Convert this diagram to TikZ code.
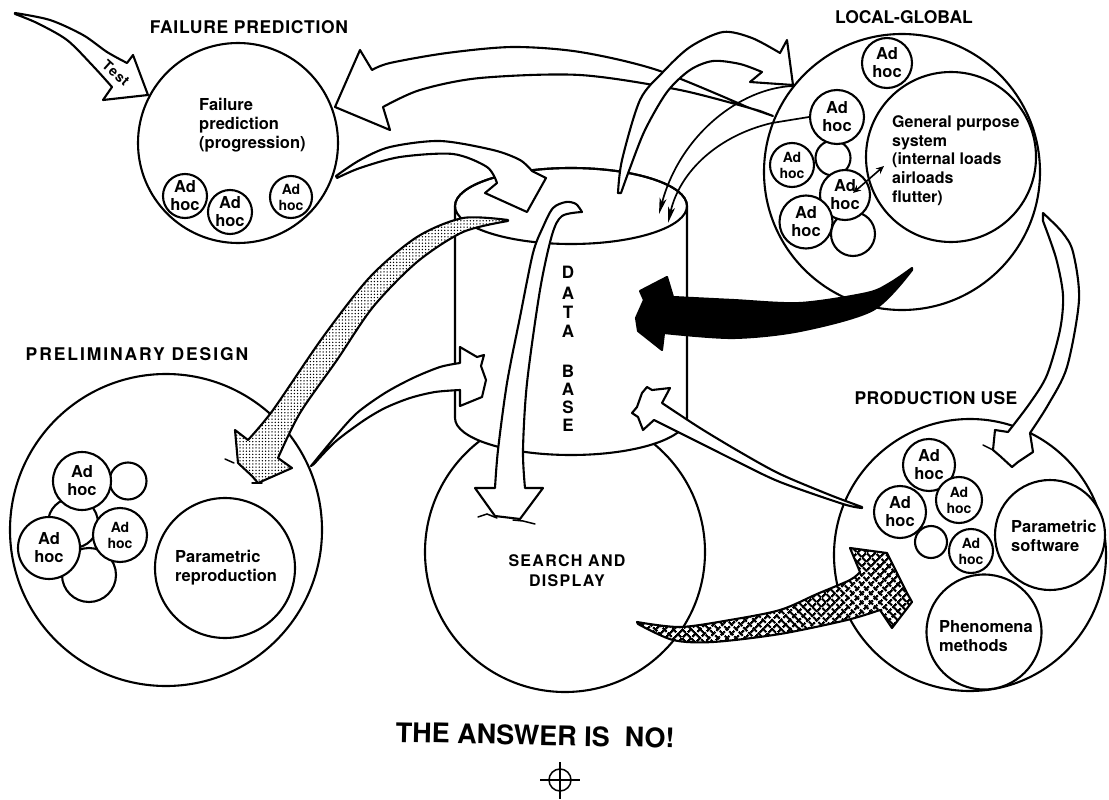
\documentclass[tikz,border=0pt]{standalone}
\usepackage{fontspec}
\setmainfont{TeX Gyre Heros}
\usetikzlibrary{arrows.meta,patterns.meta}
\begin{document}
\begin{tikzpicture}[x=1pt,y=-1pt,
  ln/.style={line width=2.1pt, line join=round},
  ring/.style={circle, draw, ln, fill=white, inner sep=0pt},
  adhoc/.style={ring, align=center, font=\fontsize{16.5}{18}\selectfont\bfseries},
  adhocs/.style={ring, align=center, font=\fontsize{14}{16}\selectfont\bfseries},
  heading/.style={inner sep=0pt, font=\fontsize{17.5}{20}\selectfont\bfseries},
  body/.style={inner sep=0pt, align=left, font=\fontsize{16.5}{19}\selectfont\bfseries},
  dbl/.style={inner sep=0pt, font=\fontsize{17}{19}\selectfont\bfseries},
  fat/.style={ln, fill=white},
  stipple/.style={ln, preaction={fill=white}, pattern={Dots[distance=3.2pt, radius=0.75pt]}},
  hatch/.style={ln, preaction={fill=white}, preaction={pattern={Lines[angle=45, distance=6.5pt, line width=2.6pt]}}, pattern={Lines[angle=-45, distance=6.5pt, line width=2.6pt]}},
  solidarrow/.style={ln, fill=black},
  thinarr/.style={line width=1.7pt, -{Stealth[length=16pt, width=7pt, inset=4pt]}},
  squig/.style={line width=1.5pt, line cap=round}
]
\useasboundingbox (0,0) rectangle (1109,800);

% ---------- headings ----------
\node[heading] (hfp) at (249,27) {\addfontfeatures{LetterSpace=4}FAILURE PREDICTION};
\node[heading] (hlg) at (904,17) {LOCAL-GLOBAL};
\node[heading] (hpd) at (137,354) {\addfontfeatures{LetterSpace=11}PRELIMINARY DESIGN};
\node[heading] (hpu) at (936,398) {\addfontfeatures{LetterSpace=2}PRODUCTION USE};

% ---------- failure prediction ----------
\node[ring, minimum size=200pt] (fp) at (238,143) {};
\node[body, anchor=north west] (fpt) at (199,98.5) {Failure\\prediction\\(progression)};
\node[adhoc, minimum size=44pt] (fpa1) at (185,196) {Ad\\hoc};
\node[adhoc, minimum size=44pt] (fpa2) at (230,212) {Ad\\hoc};
\node[adhocs, minimum size=42pt] (fpa3) at (291,197) {Ad\\hoc};

% ---------- local-global ----------
\node[ring, minimum size=276pt] (lg) at (902,172) {};
\node[adhoc, minimum size=50pt] (lga0) at (887,63) {Ad\\hoc};
\node[ring, minimum size=170pt] (gp) at (951,157) {};
\node[body, anchor=north west, font=\fontsize{16}{18.7}\selectfont\bfseries] (gpt) at (892,115.5) {General purpose\\system\\(internal loads\\airloads\\flutter)};
\node[ring, minimum size=35pt] (lgb1) at (833,158) {};
\node[ring, minimum size=44pt] (lgb2) at (853,234) {};
\node[adhoc, minimum size=54pt] (lga1) at (837,117) {Ad\\hoc};
\node[adhocs, minimum size=44pt] (lga2) at (792,165) {Ad\\hoc};
\node[adhoc, minimum size=50pt] (lga3) at (845,195) {Ad\\hoc};
\node[adhoc, minimum size=53pt] (lga4) at (806,222) {Ad\\hoc};
\draw[line width=1.6pt, {Stealth[length=8pt,width=7pt]}-{Stealth[length=8pt,width=7pt]}] (lga3.center) ++(8,-2) coordinate (dba) -- (884,166) coordinate (dbb);

% ---------- preliminary design ----------
\node[ring, minimum size=312pt] (pd) at (166,530) {};
\node[ring, minimum size=140pt] (pr) at (225,568) {};
\node[body, anchor=north west] (prt) at (175,550.5) {Parametric\\reproduction};
\node[ring, minimum size=37pt] (pdb1) at (128,481) {};
\node[ring, minimum size=50pt] (pdb2) at (73,523) {};
\node[ring, minimum size=54pt] (pdb3) at (89,575) {};
\node[adhoc, minimum size=58pt] (pda1) at (82,481) {Ad\\hoc};
\node[adhoc, minimum size=62pt] (pda2) at (49,548) {Ad\\hoc};
\node[adhocs, minimum size=54pt] (pda3) at (120,535) {Ad\\hoc};

% ---------- production use ----------
\node[ring, minimum size=272pt] (pu) at (970,555) {};
\node[adhoc, minimum size=52pt] (pua1) at (929,465) {Ad\\hoc};
\node[adhocs, minimum size=46pt] (pua2) at (959,500) {Ad\\hoc};
\node[adhoc, minimum size=52pt] (pua3) at (900,512) {Ad\\hoc};
\node[ring, minimum size=32pt] (pub1) at (931,542) {};
\node[adhocs, minimum size=44pt] (pua4) at (971,551) {Ad\\hoc};
\node[ring, minimum size=110pt] (ps) at (1050,535) {};
\node[body, anchor=north west] (pst) at (1011,520) {Parametric\\software};
\node[ring, minimum size=115pt] (pm) at (984,632) {};
\node[body, anchor=north west] (pmt) at (939,620) {Phenomena\\methods};

% ---------- search and display ----------
\node[ring, minimum size=280pt] (sd) at (565,552) {};
\node[inner sep=0pt, align=center, font=\fontsize{16}{20}\selectfont\bfseries\addfontfeatures{LetterSpace=8}] (sdt) at (567,571) {SEARCH AND\\DISPLAY};

% ---------- data base cylinder ----------
\draw[ln, fill=white] (455,206) -- (455,418) arc[start angle=180, end angle=0, x radius=116, y radius=37] -- (687,206) arc[start angle=0, end angle=-180, x radius=116, y radius=38] -- cycle;
\draw[ln] (571,206) ellipse[x radius=116, y radius=38];
\coordinate (dbtop) at (571,206);
\foreach \l/\yy [count=\i] in {D/278,A/299,T/318,A/337,B/377,A/395,S/413,E/431}
  \node[dbl, anchor=base] (db\i) at (568,\yy) {\l};

% ---------- arrow A : local-global -> failure prediction ----------
\draw[fat] (335,107) -- (360,50) -- (372,70)
  -- plot[smooth] coordinates {(372,70) (390,63) (447,53) (513,47) (580,52) (657,70) (747,107)}
  -- (773,116) -- (760,111)
  -- plot[smooth] coordinates {(760,111) (680,90) (580,75) (480,78) (420,90) (383,107)}
  -- (390,130) -- cycle;

% ---------- arrow B : data base -> local-global ----------
\draw[fat] plot[smooth] coordinates {(618,193) (622,160) (640,100) (663,72) (690,47) (723,32) (752,38) (780,53)}
  -- (787,40) -- (793,85) -- (750,82) -- (762,72)
  -- plot[smooth] coordinates {(762,72) (740,64) (713,61) (690,70) (667,92) (645,130) (630,168) (621,193)}
  -- cycle;

% ---------- thin arrows C : local-global -> data base ----------
\coordinate (ca) at (668,223);
\coordinate (cb) at (659,214);
\coordinate (c2s) at (793,86);
\draw[thinarr] (lga1.180) -- (772,123) .. controls (720,135) and (680,170) .. (ca);
\draw[thinarr] (c2s) .. controls (740,88) and (680,135) .. (cb);

% ---------- arrow D : failure prediction -> data base ----------
\draw[fat] plot[smooth] coordinates {(336,176) (360,160) (390,147) (440,141) (493,150) (520,160) (532,171)}
  -- (546,178) -- (527,212) -- (485,193) -- (497,183)
  -- plot[smooth] coordinates {(497,183) (487,167) (453,154) (400,157) (360,168) (337,178)}
  -- cycle;

% ---------- arrow E : data base -> search and display ----------
\draw[fat] plot[smooth] coordinates {(582,212) (576,204) (566,202) (553,208) (543,227) (533,253) (520,317) (507,383) (498,450) (495,488)}
  -- (475,488) -- (495,516) -- (520,519) -- (543,488) -- (525,488)
  -- plot[smooth] coordinates {(525,488) (523,450) (527,383) (540,290) (552,235) (562,216) (582,212)}
  -- cycle;
\draw[squig] (478,517) -- (487,514) -- (497,518);
\draw[squig] (513,520) -- (523,521) -- (535,524);

% ---------- arrow F : data base -> preliminary design (stippled) ----------
\draw[stipple] plot[smooth] coordinates {(508,220) (463,218) (417,237) (370,277) (323,337) (273,410) (248,440)}
  -- (235,430) -- (238,463) -- (252,476) -- (258,483) -- (292,468) -- (278,458)
  -- plot[smooth] coordinates {(278,458) (300,413) (337,360) (373,307) (417,262) (463,232) (508,221)}
  -- cycle;
\draw[squig] (225,459) -- (234,463);
\draw[squig] (252,483) -- (262,483);

% ---------- arrow G : preliminary design -> data base ----------
\draw[fat] plot[smooth] coordinates {(311,466) (335,437) (357,413) (385,393) (413,378) (440,367) (460,363)}
  -- (460,347) -- (477,357) -- (484,355) -- (481,366) -- (486,380) -- (482,397) -- (460,406) -- (460,390)
  -- plot[smooth] coordinates {(460,390) (435,392) (410,398) (385,408) (363,421) (335,442) (314,464)}
  -- cycle;

% ---------- arrow H : production use -> data base ----------
\draw[fat] plot[smooth] coordinates {(862,507) (830,495) (780,474) (740,452) (700,428) (662,403)}
  -- (670,388) -- (652,390) -- (647,387) -- (642,393) -- (637,407) -- (632,413) -- (638,417) -- (643,430) -- (654,420)
  -- plot[smooth] coordinates {(654,420) (700,443) (740,463) (780,482) (843,504) (862,508)}
  -- cycle;

% ---------- arrow I : local-global -> data base (black) ----------
\draw[solidarrow] plot[smooth] coordinates {(912,268) (890,283) (867,293) (800,303) (733,300) (673,297)}
  -- (667,277) -- (640,291) -- (644,300) -- (636,318) -- (638,331) -- (662,350) -- (664,333)
  -- plot[smooth] coordinates {(664,333) (733,338) (800,331) (873,310) (912,270)}
  -- cycle;

% ---------- arrow J : search and display -> production use (crosshatched) ----------
\draw[hatch] plot[smooth] coordinates {(637,622) (680,627) (730,620) (780,610) (817,594) (850,580) (860,572)}
  -- (850,548) -- (887,553) -- (907,593) -- (912,602) -- (892,628) -- (880,610)
  -- plot[smooth] coordinates {(880,610) (847,620) (780,634) (713,642) (673,640) (638,624)}
  -- cycle;

% ---------- arrow K : local-global -> production use ----------
\draw[fat] plot[smooth] coordinates {(1043,213) (1062,232) (1073,252) (1079,300) (1067,367) (1048,405) (1030,433)}
  -- (1033,452) -- (1018,462) -- (1012,467) -- (1000,456) -- (993,450) -- (995,430) -- (1008,432)
  -- plot[smooth] coordinates {(1008,432) (1030,403) (1047,375) (1060,330) (1063,295) (1056,258) (1043,221)}
  -- cycle;
\draw[squig] (983,445) -- (993,450);

% ---------- Test arrow ----------
\draw[fat] plot[smooth] coordinates {(15,13) (50,20) (83,35) (107,52) (127,63)}
  -- (133,55) -- (148,95) -- (103,100) -- (112,87)
  -- plot[smooth] coordinates {(112,87) (93,66) (67,40) (37,23) (15,14)}
  -- cycle;
\node[inner sep=0pt, rotate=-42, font=\fontsize{14}{16}\selectfont\bfseries\addfontfeatures{LetterSpace=7}] (test) at (116,73) {Test};

% ---------- bottom ----------
\node[inner sep=0pt, anchor=base, rotate=-1.2, font=\fontsize{27}{30}\selectfont\bfseries] (ans) at (535,745) {THE ANSWER IS\ \ NO!};
\node[circle, draw, line width=1.5pt, minimum size=22pt, inner sep=0pt] (reg) at (560,780) {};
\draw[line width=1.3pt] (540,780) -- (580,780);
\draw[line width=1.3pt] (560,762) -- (560,799);
\end{tikzpicture}
\end{document}
